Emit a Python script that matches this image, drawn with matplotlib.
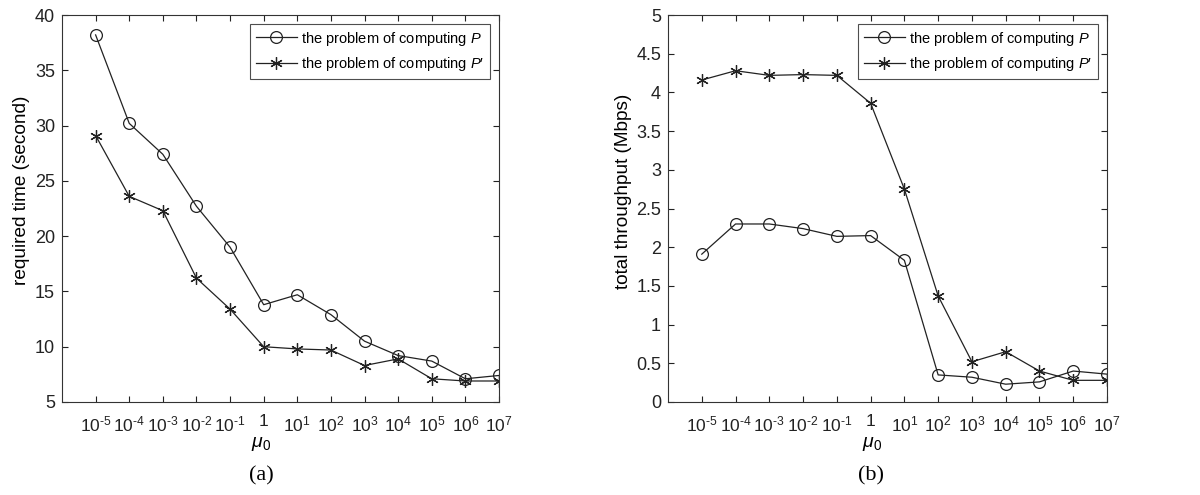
import matplotlib
matplotlib.use("Agg")
import matplotlib.pyplot as plt
import numpy as np

plt.rcParams['font.family'] = ['Liberation Sans', 'DejaVu Sans']
plt.rcParams['mathtext.fontset'] = 'custom'
plt.rcParams['mathtext.rm'] = 'Liberation Sans'
plt.rcParams['mathtext.it'] = 'Liberation Sans:italic'
plt.rcParams['mathtext.bf'] = 'Liberation Sans:bold'
plt.rcParams['axes.unicode_minus'] = False

# ---- data ----
exponents = [-5, -4, -3, -2, -1, 0, 1, 2, 3, 4, 5, 6, 7]
tick_labels = ['1' if e == 0 else
               (r'$10^{\text{-}%d}$' % (-e) if e < 0 else r'$10^{%d}$' % e)
               for e in exponents]

time_P = [38.2, 30.2, 27.4, 22.7, 19.0, 13.8, 14.7, 12.9, 10.5, 9.2, 8.7, 7.1, 7.4]
time_Pp = [29.1, 23.6, 22.3, 16.2, 13.4, 10.0, 9.8, 9.7, 8.3, 8.9, 7.1, 6.9, 6.9]

thr_P = [1.91, 2.30, 2.30, 2.24, 2.14, 2.15, 1.83, 0.35, 0.32, 0.23, 0.26, 0.40, 0.36]
thr_Pp = [4.16, 4.28, 4.22, 4.23, 4.22, 3.86, 2.75, 1.37, 0.52, 0.65, 0.40, 0.28, 0.28]

label_P = r'the problem of computing $\mathit{P}$'
label_Pp = 'the problem of computing $\\mathit{P}$\u2032'

W, H = 1200, 495
fig = plt.figure(figsize=(12, 4.95), dpi=100)

def ax_at(x0, y0, x1, y1):
    return fig.add_axes([x0 / W, 1 - y1 / H, (x1 - x0) / W, (y1 - y0) / H])

ax1 = ax_at(62, 15, 499, 402)
ax2 = ax_at(668, 15, 1107, 402)

col = '#222222'
star = (6, 2, 0)
tfs = 12.5
lfs = 10.5

def draw(ax, yP, yPp, ylim, yticks, yticklabels):
    x = np.arange(len(exponents))
    ax.plot(x, yP, color=col, lw=0.9, marker='o', ms=8.5, mfc='none', mec=col, mew=0.9, label=label_P)
    ax.plot(x, yPp, color=col, lw=0.9, marker=star, ms=9, mec=col, mew=0.9, label=label_Pp)
    ax.set_xlim(-1, 12)
    ax.set_ylim(*ylim)
    ax.set_xticks(x)
    ax.set_xticklabels(tick_labels, fontsize=tfs)
    ax.set_yticks(yticks)
    ax.set_yticklabels(yticklabels, fontsize=13)
    ax.tick_params(axis='both', direction='in', top=True, right=True, length=4.5, width=0.8,
                   colors='#222222')
    ax.tick_params(axis='x', pad=9)
    ax.tick_params(axis='y', pad=5)
    for s in ax.spines.values():
        s.set_linewidth(0.8)
        s.set_color('#333333')
    leg = ax.legend(loc='upper right', fontsize=lfs, frameon=True, fancybox=False,
                    edgecolor='#222222', handlelength=2.8, borderpad=0.4,
                    labelspacing=0.5, handletextpad=0.3, borderaxespad=0.6)
    leg.get_frame().set_linewidth(0.8)

draw(ax1, time_P, time_Pp, (5, 40), list(range(5, 41, 5)), [str(v) for v in range(5, 41, 5)])
yt2 = [0, 0.5, 1, 1.5, 2, 2.5, 3, 3.5, 4, 4.5, 5]
draw(ax2, thr_P, thr_Pp, (0, 5), yt2, ['0', '0.5', '1', '1.5', '2', '2.5', '3', '3.5', '4', '4.5', '5'])

fig.text(22 / W, 1 - 190 / H, 'required time (second)', fontsize=13.7, rotation=90,
         ha='center', va='center')
fig.text(623 / W, 1 - 191 / H, 'total throughput (Mbps)', fontsize=13.7, rotation=90,
         ha='center', va='center')

fig.text(261 / W, 1 - 444 / H, r'$\mu_0$', fontsize=14, ha='center', va='center')
fig.text(872 / W, 1 - 444 / H, r'$\mu_0$', fontsize=14, ha='center', va='center')
fig.text(261 / W, 1 - 476 / H, '(a)', fontsize=16, ha='center', va='center', family='Liberation Serif')
fig.text(871 / W, 1 - 476 / H, '(b)', fontsize=16, ha='center', va='center', family='Liberation Serif')

fig.savefig('out.png', dpi=100)
